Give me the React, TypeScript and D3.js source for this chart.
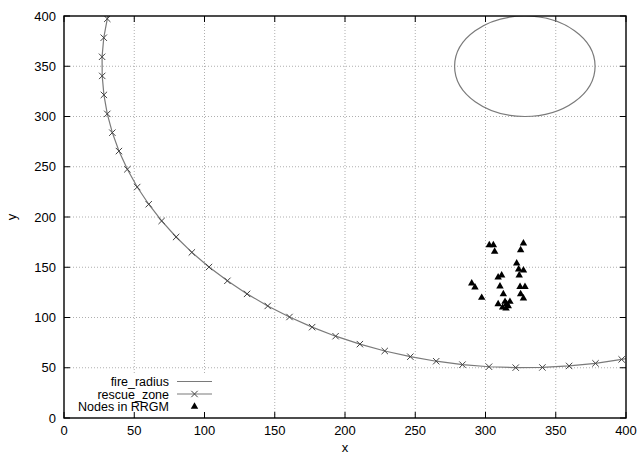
import React from 'react';
import * as d3 from 'd3';

// axis ticks
const xTicks = [0, 50, 100, 150, 200, 250, 300, 350, 400];
const yTicks = [0, 50, 100, 150, 200, 250, 300, 350, 400];

// fire_radius circle (data units)
const fireCenter = [328, 350];
const fireRadius = 50;

// rescue_zone points
const rescueX = [34.3, 30.8, 28.3, 27.1, 27.2, 28.4, 30.8, 34.4, 39.1, 45.1, 52.1, 60.3, 69.5, 79.8, 91.0,
  103.2, 116.3, 130.3, 145.0, 160.5, 176.6, 193.3, 210.6, 228.3, 246.5, 264.9, 283.6, 302.5, 321.5,
  340.5, 359.5, 378.3, 396.9, 415.2];
const rescueY = [415.9, 397.2, 378.4, 359.4, 340.4, 321.5, 302.6, 283.9, 265.6, 247.5, 229.8, 212.7, 196.1,
  180.1, 164.8, 150.2, 136.5, 123.5, 111.5, 100.5, 90.4, 81.4, 73.5, 66.7, 61.0, 56.5, 53.1, 51.0, 50.1,
  50.3, 51.8, 54.4, 58.3, 63.3];

// Nodes in RRGM
const nodeX = [302.7, 305.6, 306.5, 327, 325, 322.2, 323.6, 327, 324, 311.5, 309, 290.2, 292.5, 310.3,
  324.6, 328.1, 297.3, 312.7, 325, 327, 317.4, 313.9, 315, 312.2, 314.6, 316.2, 309];
const nodeY = [172, 172, 165.5, 173.8, 167, 154, 148, 147, 142, 142, 140, 134, 130, 131, 130.6, 130.6,
  119.7, 123.4, 123.4, 119, 115.7, 115.7, 113.4, 110, 109, 111.4, 113.4];

const legendLabels = ['fire_radius', 'rescue_zone', 'Nodes in RRGM'];

const W = 640;
const H = 455;
const margin = { top: 16, right: 14, bottom: 37, left: 64 };
const font = '"Liberation Sans", Arial, Helvetica, sans-serif';
const gray = '#7a7a7a';

export default function App() {
  const x = d3.scaleLinear().domain([0, 400]).range([margin.left, W - margin.right]);
  const y = d3.scaleLinear().domain([0, 400]).range([H - margin.bottom, margin.top]);
  const [x0, x1] = x.range();
  const [y0, y1] = y.range();

  const rescue = rescueX.map((v, i) => [v, rescueY[i]] as [number, number]);
  const nodes = nodeX.map((v, i) => [v, nodeY[i]] as [number, number]);

  const line = d3.line<[number, number]>().x(d => x(d[0])).y(d => y(d[1]));
  const tri = d3.symbol().type(d3.symbolTriangle).size(24)();

  const crossSize = 3.2;
  const cross = (cx: number, cy: number, key: string | number) => (
    <path key={key}
      d={`M${cx - crossSize},${cy - crossSize}L${cx + crossSize},${cy + crossSize}M${cx - crossSize},${cy + crossSize}L${cx + crossSize},${cy - crossSize}`}
      stroke="#444" strokeWidth={1} fill="none" />
  );

  // legend placement
  const legTextX = 169;
  const legLineX = [177, 212];
  const legRows = [381.5, 394, 406.5];

  return (
    <svg width={W} height={H} style={{ position: 'absolute', left: 0, top: 0, background: '#fff' }}
      fontFamily={font}>
      <defs>
        <clipPath id="plot">
          <rect x={x0} y={y1} width={x1 - x0} height={y0 - y1} />
        </clipPath>
      </defs>
      <rect width={W} height={H} fill="#fff" />

      {/* grid */}
      <g stroke="#9a9a9a" strokeWidth={0.8} strokeDasharray="1,2">
        {xTicks.slice(1, -1).map(t => (
          <line key={'gx' + t} x1={x(t)} x2={x(t)} y1={y0} y2={y1} />
        ))}
        {yTicks.slice(1, -1).map(t => (
          <line key={'gy' + t} x1={x0} x2={x1} y1={y(t)} y2={y(t)} />
        ))}
      </g>

      {/* legend background covers grid */}
      <rect x={74} y={374} width={146} height={42} fill="#fff" />

      {/* ticks, mirrored */}
      <g stroke="#000" strokeWidth={1}>
        {xTicks.map(t => (
          <g key={'tx' + t}>
            <line x1={x(t)} x2={x(t)} y1={y0} y2={y0 - 6} />
            <line x1={x(t)} x2={x(t)} y1={y1} y2={y1 + 6} />
          </g>
        ))}
        {yTicks.map(t => (
          <g key={'ty' + t}>
            <line x1={x0} x2={x0 + 6} y1={y(t)} y2={y(t)} />
            <line x1={x1} x2={x1 - 6} y1={y(t)} y2={y(t)} />
          </g>
        ))}
      </g>

      {/* tick labels */}
      <g fontSize={13} fill="#000">
        {xTicks.map(t => (
          <text key={'lx' + t} x={x(t)} y={y0 + 17} textAnchor="middle">{t}</text>
        ))}
        {yTicks.map(t => (
          <text key={'ly' + t} x={x0 - 8} y={y(t) + 4.5} textAnchor="end">{t}</text>
        ))}
      </g>

      {/* axis titles */}
      <text x={(x0 + x1) / 2} y={452} textAnchor="middle" fontSize={13}>x</text>
      <text transform={`translate(16,${(y0 + y1) / 2}) rotate(-90)`} textAnchor="middle" fontSize={13}>y</text>

      {/* data */}
      <g clipPath="url(#plot)">
        <ellipse cx={x(fireCenter[0])} cy={y(fireCenter[1])}
          rx={x(fireCenter[0] + fireRadius) - x(fireCenter[0])}
          ry={y(fireCenter[1] - fireRadius) - y(fireCenter[1])}
          fill="none" stroke={gray} strokeWidth={1.2} />
        <path d={line(rescue) || ''} fill="none" stroke={gray} strokeWidth={1.2} />
        {rescue.map((d, i) => cross(x(d[0]), y(d[1]), 'r' + i))}
        {nodes.map((d, i) => (
          <path key={'n' + i} d={tri || ''} transform={`translate(${x(d[0])},${y(d[1])})`} fill="#000" />
        ))}
      </g>

      {/* border */}
      <rect x={x0} y={y1} width={x1 - x0} height={y0 - y1} fill="none" stroke="#000" strokeWidth={1.4} />

      {/* legend */}
      <g fontSize={12.5}>
        {legendLabels.map((l, i) => (
          <text key={l} x={legTextX} y={legRows[i] + 4.5} textAnchor="end">{l}</text>
        ))}
        <line x1={legLineX[0]} x2={legLineX[1]} y1={legRows[0]} y2={legRows[0]} stroke={gray} strokeWidth={1.2} />
        <line x1={legLineX[0]} x2={legLineX[1]} y1={legRows[1]} y2={legRows[1]} stroke={gray} strokeWidth={1.2} />
        {cross((legLineX[0] + legLineX[1]) / 2, legRows[1], 'lc')}
        <path d={tri || ''} transform={`translate(${(legLineX[0] + legLineX[1]) / 2},${legRows[2]})`} fill="#000" />
      </g>
    </svg>
  );
}
